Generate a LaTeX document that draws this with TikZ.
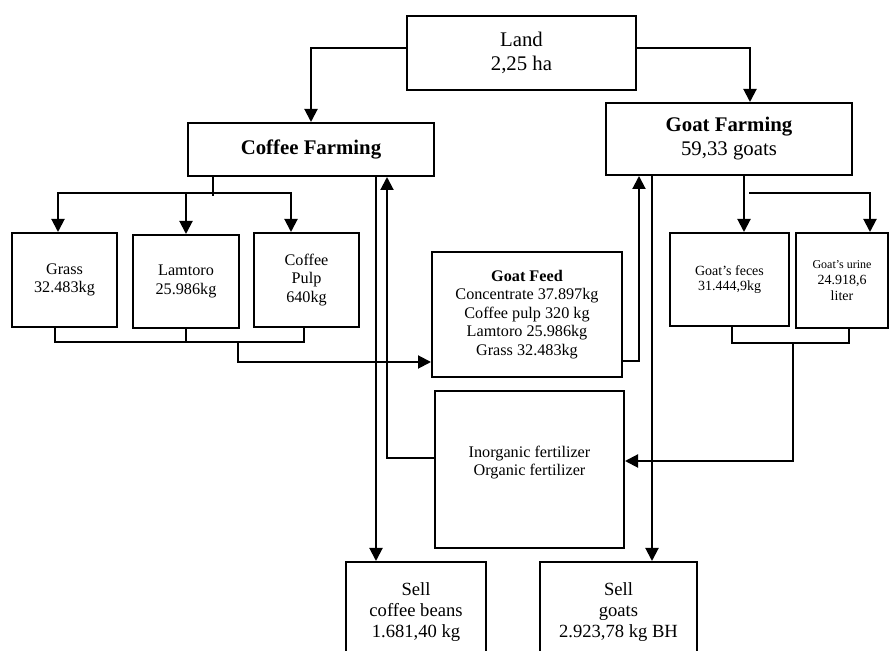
\documentclass[tikz,border=0pt]{standalone}
\usepackage{fontspec}
\setmainfont{Liberation Serif}
\usetikzlibrary{arrows.meta}
\tikzset{
    >={Triangle[width=6.5pt,length=6.5pt]},
    % Fonts
    topFont/.style={font=\fontsize{10.4}{12}\selectfont},
    sellFont/.style={font=\fontsize{9.3}{10.7}\selectfont},
    midFont/.style={font=\fontsize{8.1}{9.3}\selectfont},
    smallFont/.style={font=\fontsize{7}{7.9}\selectfont},
    % Shapes
    box/.style={rectangle, draw, line width=1pt, align=center, inner sep=2pt},
    % Lines
    link/.style={line width=1pt},
    flow/.style={->, line width=1pt}
}

\begin{document}
\begin{tikzpicture}[x=0.5pt, y=-0.5pt]
\useasboundingbox (0,0) rectangle (890,651);

\node[box, topFont, minimum width=114.5pt, minimum height=37pt] (land) at (521.5,53) {Land\\2,25 ha};
\node[box, topFont, minimum width=123pt, minimum height=26.5pt] (coffee) at (311,149.5) {\textbf{Coffee Farming}};
\node[box, topFont, minimum width=123pt, minimum height=36pt] (goat) at (729,139) {\textbf{Goat Farming}\\59,33 goats};

\node[box, midFont, minimum width=52.5pt, minimum height=47pt] (grass) at (64.5,280) {Grass\\32.483kg};
\node[box, midFont, minimum width=53pt, minimum height=46.5pt] (lamtoro) at (186,281.5) {Lamtoro\\25.986kg};
\node[box, midFont, minimum width=52.5pt, minimum height=47pt] (pulp) at (306.5,280) {Coffee\\Pulp\\640kg};

\node[box, midFont, minimum width=95pt, minimum height=62.5pt] (feed) at (527,314.5)
    {\textbf{Goat Feed}\\Concentrate 37.897kg\\Coffee pulp 320 kg\\Lamtoro 25.986kg\\Grass 32.483kg};

\node[box, smallFont, minimum width=59.5pt, minimum height=46.5pt] (feces) at (729.5,279.5) {Goat’s feces\\31.444,9kg};
\node[box, smallFont, minimum width=46pt, minimum height=47.5pt] (urine) at (842,280.5)
    {{\fontsize{6}{7.9}\selectfont Goat’s urine}\\24.918,6\\liter};

\node[box, midFont, minimum width=94.5pt, minimum height=78.5pt, text depth=8.8pt] (fert) at (529.5,469.5)
    {Inorganic fertilizer\\Organic fertilizer};

\node[box, sellFont, minimum width=70pt, minimum height=50pt] (sellc) at (416,612) {Sell\\coffee beans\\1.681,40 kg};
\node[box, sellFont, minimum width=78.5pt, minimum height=50pt] (sellg) at (618.5,612) {Sell\\goats\\2.923,78 kg BH};

% Branch points
\coordinate (cbus) at (213,196);
\coordinate (cbusL) at (58,193);
\coordinate (cbusR) at (291,193);
\coordinate (fbusL) at (55,342);
\coordinate (fbusR) at (304,342);
\coordinate (fbus) at (238,342);
\coordinate (fin) at (238,362);
\coordinate (gup) at (639,361);
\coordinate (cdown) at (376,176);
\coordinate (cup) at (387,458);
\coordinate (gdown) at (652,175);
\coordinate (gfork) at (744,193);
\coordinate (ufork) at (870,193);
\coordinate (mbusL) at (732,343);
\coordinate (mbusR) at (849,343);
\coordinate (mbus) at (793,343);
\coordinate (min) at (793,461);

% Land
\draw[flow] ([yshift=2.5pt]land.west) -| (coffee.north);
\draw[flow] ([yshift=2.5pt]land.east) -| ([xshift=10.5pt]goat.north);

% Coffee farming to crops
\draw[link] (cbus |- coffee.south) -- (cbus);
\draw[flow, <->] (cbusL |- grass.north) -- (cbusL) -- (cbusR) -- (cbusR |- pulp.north);
\draw[flow] (lamtoro.north |- cbusL) -- (lamtoro.north);

% Crops to goat feed
\draw[link] (fbusL |- grass.south) -- (fbusL) -- (fbusR) -- (fbusR |- pulp.south);
\draw[link] (lamtoro.south) -- (lamtoro.south |- fbusL);
\draw[flow] (fbus) -- (fin) -- (fin -| feed.west);
\draw[flow] (gup -| feed.east) -- (gup) -- (gup |- goat.south);

% Goat farming to manure
\draw[flow] (gfork |- goat.south) -- (gfork |- feces.north);
\draw[flow] ([xshift=2.5pt]gfork) -- (ufork) -- (ufork |- urine.north);
\draw[link] (mbusL |- feces.south) -- (mbusL) -- (mbusR) -- (mbusR |- urine.south);
\draw[flow] (mbus) -- (min) -- (min -| fert.east);

% Fertilizer back to coffee
\draw[flow] (cup -| fert.west) -- (cup) -- (cup |- coffee.south);

% Sales
\draw[flow] (cdown) -- (cdown |- sellc.north);
\draw[flow] (gdown) -- (gdown |- sellg.north);

\end{tikzpicture}
\end{document}
